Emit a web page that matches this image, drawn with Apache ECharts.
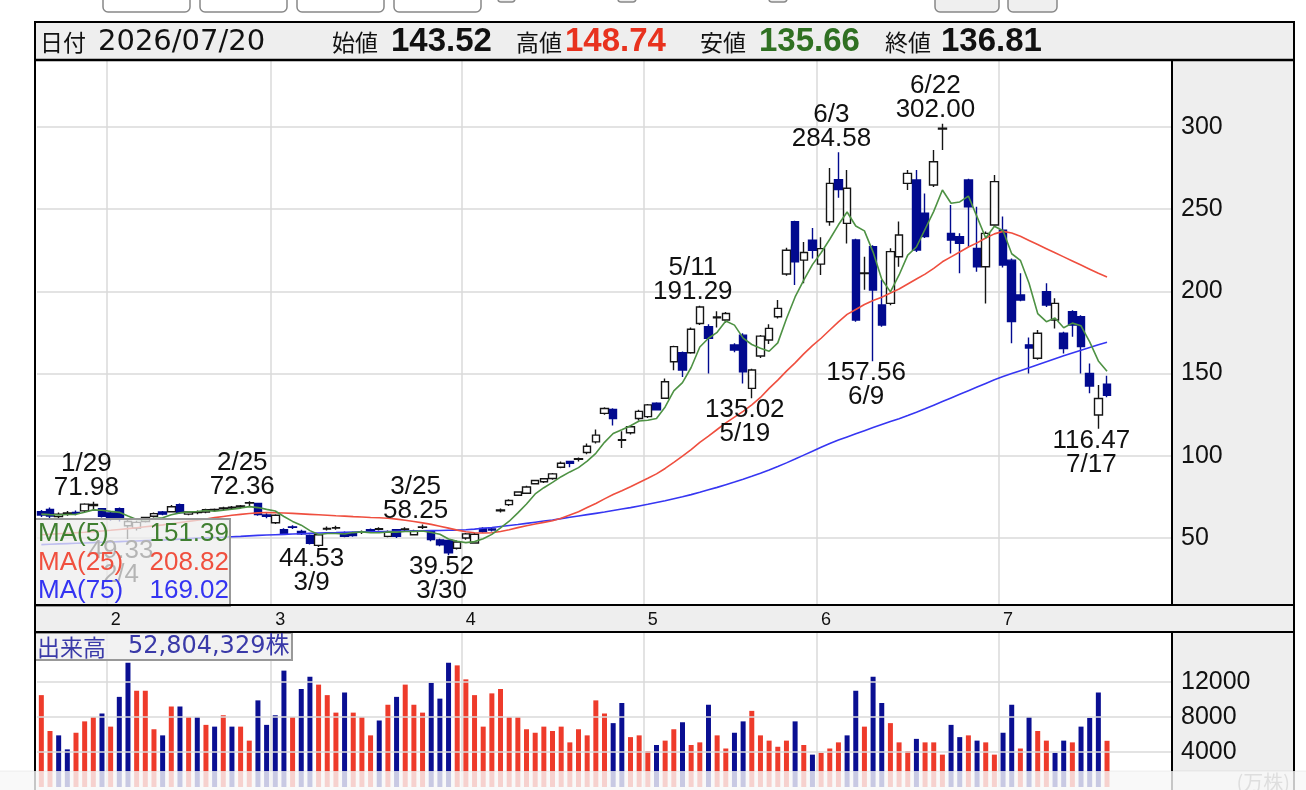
<!DOCTYPE html>
<html>
<head>
<meta charset="utf-8">
<script src="https://cdn.jsdelivr.net/npm/echarts@6/dist/echarts.min.js"></script>
<style>
  html, body { margin: 0; padding: 0; background: #fff; }
  #main { width: 1306px; height: 790px; }
</style>
</head>
<body>
<div id="main"></div>
<script>
// 日付 (最後の7つは空き枠)
const dates = [
  '1/21','1/22','1/23','1/26','1/27','1/28','1/29','1/30',
  '2/2','2/3','2/4','2/5','2/6','2/9','2/10','2/12','2/13','2/16','2/17','2/18','2/19','2/20','2/23','2/24','2/25','2/26','2/27',
  '3/2','3/3','3/4','3/5','3/6','3/9','3/10','3/11','3/12','3/13','3/16','3/17','3/18','3/19','3/20','3/23','3/24','3/25','3/26','3/27','3/30','3/31',
  '4/1','4/2','4/3','4/6','4/7','4/8','4/9','4/10','4/13','4/14','4/15','4/16','4/17','4/20','4/21','4/22','4/23','4/24','4/27','4/28','4/30',
  '5/1','5/4','5/5','5/6','5/7','5/8','5/11','5/12','5/13','5/14','5/15','5/18','5/19','5/20','5/21','5/22','5/26','5/27','5/28','5/29',
  '6/1','6/2','6/3','6/4','6/5','6/8','6/9','6/10','6/11','6/12','6/16','6/17','6/18','6/19','6/22','6/23','6/24','6/25','6/26','6/29','6/30',
  '7/1','7/2','7/3','7/7','7/8','7/9','7/10','7/13','7/14','7/15','7/16','7/17','7/20',
  '7/21','7/22','7/23','7/24','7/27','7/28','7/29'
];

const opens = [
  66.0,67.4,63.0,64.8,65.5,66.5,69.8,67.8,65.2,67.8,
  57.5,56.0,60.0,63.2,65.8,66.0,70.2,64.5,65.5,65.8,
  67.0,67.8,68.2,68.8,71.2,71.0,64.0,59.3,55.0,56.8,
  54.0,51.6,45.5,55.5,56.0,53.2,53.0,53.5,55.0,55.3,
  51.0,55.0,55.2,52.0,56.5,53.9,48.8,48.5,43.8,50.0,
  47.0,55.8,55.5,66.5,70.3,76.0,77.2,83.0,84.2,86.2,
  93.0,96.5,97.8,102.0,108.5,125.8,128.2,109.4,114.0,122.7,
  123.8,132.0,135.0,157.2,162.7,162.7,180.5,178.5,184.0,182.6,
  167.4,173.4,141.0,160.7,170.4,184.6,210.6,242.4,219.0,231.2,
  216.6,242.4,268.0,241.4,231.3,210.8,227.2,191.7,192.7,221.1,
  265.7,267.8,247.5,264.7,298.8,235.3,233.3,267.8,226.2,215.0,
  240.4,237.3,219.0,197.8,167.5,159.3,199.8,182.6,174.5,187.7,
  184.6,150.1,124.8,143.52
];
const closes = [
  64.0,63.4,64.5,65.2,65.0,70.6,70.4,63.2,61.6,62.0,
  60.0,59.5,62.5,64.8,64.5,69.0,65.5,65.8,65.8,67.2,
  67.3,68.3,68.8,69.5,71.5,64.2,63.2,63.8,52.8,56.5,
  52.5,46.8,52.0,55.8,56.2,51.0,51.5,53.8,54.0,55.6,
  53.8,51.0,55.5,54.3,56.8,49.0,45.8,41.0,47.6,52.5,
  52.3,54.0,54.8,67.0,72.8,78.0,81.0,85.0,86.0,89.0,
  95.5,95.5,98.2,105.8,112.6,128.8,122.7,109.8,117.7,127.0,
  131.0,128.0,145.0,166.4,152.2,177.0,190.5,171.4,184.5,186.6,
  164.3,151.1,152.2,172.8,177.5,189.7,225.0,218.0,223.7,225.0,
  226.0,265.7,262.0,262.7,182.6,211.2,200.8,179.5,224.2,234.3,
  271.8,225.2,233.3,278.9,299.3,231.3,229.2,251.5,215.0,235.3,
  266.8,216.0,181.6,194.8,165.5,174.5,191.7,192.7,165.3,179.5,
  166.4,142.4,134.9,136.81
];
const lows = [
  62.8,62.0,61.5,63.5,63.8,65.8,66.5,62.5,60.5,60.0,
  49.33,54.5,59.5,62.5,63.8,65.5,64.8,63.8,64.5,65.0,
  66.2,67.0,67.5,68.0,69.5,63.5,62.0,58.5,52.0,55.5,
  51.8,46.0,44.53,54.5,55.0,50.5,50.8,52.5,53.0,54.5,
  50.5,50.0,54.2,51.5,55.5,48.0,45.0,39.52,43.0,49.0,
  46.5,53.2,54.0,65.5,69.5,75.5,76.8,82.5,83.5,85.5,
  92.5,93.0,96.5,101.0,107.5,125.0,118.5,104.8,113.0,121.5,
  123.0,127.5,134.5,152.0,148.0,162.0,179.5,150.0,178.0,181.0,
  163.0,144.0,135.02,159.5,168.0,183.5,209.5,203.9,205.0,220.0,
  210.0,240.0,257.0,229.2,181.5,201.0,157.56,178.5,191.5,215.0,
  261.7,224.0,232.5,263.5,286.0,223.1,211.0,227.2,212.0,192.7,
  239.5,214.5,168.4,194.0,150.0,158.5,190.5,177.5,162.3,172.4,
  150.1,138.0,116.47,135.66
];
const highs = [
  67.0,68.5,65.5,66.5,66.8,71.2,71.98,68.3,66.0,68.5,
  61.0,60.5,63.0,65.5,66.5,70.0,71.0,66.5,66.8,67.8,
  68.0,69.0,69.5,70.0,72.36,71.5,65.0,64.5,56.0,57.8,
  55.0,52.2,52.5,57.0,57.5,54.0,53.8,54.5,55.8,56.5,
  54.5,55.5,56.5,55.0,58.25,54.5,49.5,49.0,48.5,53.0,
  53.0,56.5,56.2,68.0,73.5,78.5,81.8,85.5,86.5,89.5,
  96.5,97.0,99.0,107.5,116.0,129.5,129.0,115.0,118.5,128.0,
  131.5,132.5,147.0,167.0,163.5,178.0,191.29,180.0,188.0,187.5,
  168.5,174.5,153.0,173.5,180.0,194.8,226.5,243.0,230.0,238.5,
  233.0,275.0,284.58,273.8,232.0,221.0,228.0,207.0,226.2,242.5,
  273.8,273.8,259.6,286.0,302.0,252.5,235.3,268.5,251.5,236.5,
  270.8,245.5,220.0,211.0,172.0,176.5,204.9,195.8,175.5,188.5,
  185.5,156.2,143.0,148.74
];

const ma5 = [
  64.5,64.2,64.0,64.3,64.4,65.7,67.1,66.9,66.2,65.6,
  63.4,61.3,61.1,61.8,62.3,64.1,65.3,65.9,66.1,66.7,
  66.3,66.9,67.5,68.2,69.1,68.5,67.4,66.4,63.1,60.1,
  57.8,54.5,52.1,52.7,52.7,52.4,53.3,53.7,53.3,53.2,
  53.7,53.6,54.0,54.0,54.3,53.3,52.3,49.4,48.0,47.2,
  47.8,49.5,52.2,56.1,60.2,65.3,70.7,76.8,80.6,83.8,
  87.3,90.2,92.8,96.8,101.5,108.2,113.6,115.9,118.3,121.2,
  121.6,122.7,129.7,139.5,144.5,153.7,166.2,171.5,175.1,182.0,
  179.5,171.6,167.7,165.4,163.6,168.7,183.4,196.6,206.8,216.3,
  223.5,231.7,240.5,248.3,239.8,236.8,223.9,207.4,199.7,210.0,
  222.1,227.0,237.8,248.7,261.7,253.6,254.4,258.0,245.3,232.5,
  239.6,236.9,222.9,218.9,204.9,186.5,181.6,183.8,177.9,180.7,
  179.1,169.3,157.7,151.39
];
const ma25 = [
  52.0,52.3,52.6,52.9,53.2,53.5,53.9,54.3,54.7,55.2,
  55.7,56.2,56.8,57.4,58.0,58.7,59.4,60.1,60.8,61.6,
  62.4,63.1,63.8,64.4,64.9,65.3,65.5,65.4,65.2,65.0,
  64.7,64.4,64.1,63.8,63.5,63.3,63.0,62.8,62.5,62.3,
  62.0,61.5,60.8,60.0,59.2,58.3,57.2,56.0,54.8,53.8,
  53.2,53.0,53.2,54.0,55.0,56.3,57.5,58.5,59.5,60.5,
  62.0,64.0,66.0,68.5,71.0,73.8,76.5,78.8,81.2,83.8,
  86.3,89.0,92.3,96.0,99.8,103.8,108.2,112.0,116.0,120.0,
  123.5,127.0,131.0,135.5,141.0,146.0,151.5,156.5,162.0,167.0,
  171.5,176.5,181.5,186.0,189.0,192.0,194.5,196.5,199.0,201.5,
  204.5,207.5,210.5,214.0,218.0,221.0,224.0,227.0,229.5,232.5,
  235.0,236.5,235.5,233.5,231.0,228.5,226.0,223.5,221.0,218.5,
  216.0,213.5,211.0,208.82
];
const ma75 = [
  46.0,46.2,46.4,46.6,46.8,47.0,47.2,47.4,47.6,47.8,
  48.0,48.2,48.4,48.6,48.8,49.0,49.3,49.6,49.9,50.1,
  50.3,50.5,50.8,51.0,51.3,51.6,51.8,52.0,52.2,52.4,
  52.6,52.8,53.0,53.2,53.3,53.5,53.6,53.7,53.8,53.9,
  54.0,54.1,54.2,54.3,54.4,54.5,54.6,54.7,54.8,55.0,
  55.4,55.9,56.4,57.0,57.6,58.2,58.9,59.6,60.3,61.0,
  61.8,62.6,63.4,64.2,65.0,65.8,66.7,67.6,68.5,69.5,
  70.5,71.6,72.7,73.9,75.1,76.4,77.8,79.3,80.8,82.4,
  84.0,85.7,87.5,89.4,91.4,93.5,95.7,98.0,100.4,102.8,
  105.2,107.5,109.6,111.5,113.4,115.3,117.2,119.0,120.8,122.6,
  124.5,126.5,128.6,130.8,133.0,135.2,137.4,139.6,141.8,144.0,
  146.2,148.2,150.0,151.8,153.6,155.4,157.2,159.0,160.8,162.5,
  164.2,165.9,167.5,169.02
];

// 出来高 (万株)
const volumes = [
  10500,6400,5900,4300,6200,7500,8000,8400,6900,10300,
  14200,11000,11000,6600,5900,9200,9200,8000,8000,7100,
  6900,8200,6900,6900,5300,9900,7100,8200,13300,8000,
  11200,12600,11700,10500,8500,10800,8500,8000,5900,7600,
  9400,10300,11700,9400,8500,11900,10100,14200,13900,12300,
  10500,6900,10700,11200,8000,8000,6600,6200,6900,6400,
  6900,5100,6600,5900,9900,8400,7300,9600,5700,5900,
  4100,4800,5300,6600,7400,4800,5100,9400,5900,4400,
  6200,7500,8700,5900,5300,4600,5300,7500,4800,3700,
  3900,4400,5100,5900,11000,6900,12600,9600,7300,5100,
  4100,5500,5100,5100,3700,7100,5700,5900,5300,5100,
  3700,6200,9400,4400,8000,6400,5300,3900,5300,5100,
  6900,7900,10800,5280
];
// r = 赤 (前日比上昇), b = 青
const volumeColors = (
  'rrbbrrrbrb' + 'brrrbrbrbr' + 'brbrrbbbbr' + 'bbrrrbrrrb' + 'rbrrrbbbrr' +
  'rrrrrrrrrr' + 'rrrrrrbbrr' + 'rbrrbrrbrr' + 'bbrrrrrbrb' + 'rrrbbrbbrr' +
  'rbrrrbbrbr' + 'rbbrbrrbbr' + 'bbbr'
).split('');

const priceTicks = [50, 100, 150, 200, 250, 300];
const volumeTicks = [4000, 8000, 12000];

// 高値・安値の注記
const peaks = [
  ['1/29', 71.98, 'top'], ['2/25', 72.36, 'top'], ['2/4', 49.33, 'bottom'],
  ['3/9', 44.53, 'bottom'], ['3/25', 58.25, 'top'], ['3/30', 39.52, 'bottom'],
  ['5/11', 191.29, 'top'], ['5/19', 135.02, 'bottom'], ['6/3', 284.58, 'top'],
  ['6/9', 157.56, 'bottom'], ['6/22', 302.00, 'top'], ['7/17', 116.47, 'bottom']
];

const quote = { date: '2026/07/20', open: '143.52', high: '148.74', low: '135.66', close: '136.81' };
const maLegend = [
  ['MA(5)', '151.39', '#3f7f30'],
  ['MA(25)', '208.82', '#f0503f'],
  ['MA(75)', '169.02', '#3434f2']
];
const volumeText = '52,804,329株';

const SANS = "'Liberation Sans', 'Noto Sans CJK JP', sans-serif";
const WIDE = "'DejaVu Sans', 'Noto Sans CJK JP', sans-serif";
const CJK = "'Noto Sans CJK JP', sans-serif";
const UP_VOL = '#ee3b2b', DOWN_VOL = '#0a0f92', DOWN = '#020a8f';

const monthStarts = dates.map((d, i) => i > 0 && d.split('/')[0] !== dates[i - 1].split('/')[0]);

const ohlc = opens.map((o, i) => [o, closes[i], lows[i], highs[i]]);

const chart = echarts.init(document.getElementById('main'));

function line(x1, y1, x2, y2, w, color, z) {
  return { type: 'line', z: z || 50, silent: true, shape: { x1, y1, x2, y2 }, style: { stroke: color || '#000', lineWidth: w } };
}
function rect(x, y, width, height, style, z, r) {
  return { type: 'rect', z: z, silent: true, shape: { x, y, width, height, r: r || 0 }, style };
}
function text(t, x, y, font, color, align, z) {
  return { type: 'text', z: z || 51, silent: true,
    style: { text: t, x, y, font, fill: color || '#111', textAlign: align || 'left', textVerticalAlign: 'middle' } };
}

const graphics = [
  // top buttons (cut off)
  rect(103, -14, 87, 26, { fill: '#fff', stroke: '#888', lineWidth: 1.5 }, 1, 5),
  rect(200, -14, 87, 26, { fill: '#fff', stroke: '#888', lineWidth: 1.5 }, 1, 5),
  rect(297, -14, 87, 26, { fill: '#fff', stroke: '#888', lineWidth: 1.5 }, 1, 5),
  rect(394, -14, 87, 26, { fill: '#fff', stroke: '#888', lineWidth: 1.5 }, 1, 5),
  rect(498, -10, 17, 12, { fill: '#eee', stroke: '#888', lineWidth: 1.5 }, 1, 3),
  rect(618, -10, 18, 12, { fill: '#eee', stroke: '#888', lineWidth: 1.5 }, 1, 3),
  rect(769, -10, 18, 12, { fill: '#eee', stroke: '#888', lineWidth: 1.5 }, 1, 3),
  rect(935, -14, 64, 26, { fill: '#efefef', stroke: '#888', lineWidth: 1.5 }, 1, 5),
  rect(1008, -14, 49, 26, { fill: '#efefef', stroke: '#888', lineWidth: 1.5 }, 1, 5),

  // gray areas behind axes
  rect(35, 22, 1259, 38, { fill: '#eeeeee', stroke: '#000', lineWidth: 2 }, -1),
  rect(1172, 60, 122, 545, { fill: '#eeeeee' }, -1),
  rect(1172, 632, 122, 160, { fill: '#eeeeee' }, -1),
  rect(35, 605, 1259, 27, { fill: '#eeeeee' }, -1),

  // header quote
  text('日付', 40, 42, '23px ' + CJK),
  text(quote.date, 98, 42, '29px ' + WIDE),
  text('始値', 332, 42, '23px ' + CJK),
  text(quote.open, 391, 42, 'bold 33px ' + SANS),
  text('高値', 516, 42, '23px ' + CJK),
  text(quote.high, 565, 42, 'bold 33px ' + SANS, '#e8321e'),
  text('安値', 700, 42, '23px ' + CJK),
  text(quote.low, 759, 42, 'bold 33px ' + SANS, '#2f7022'),
  text('終値', 885, 42, '23px ' + CJK),
  text(quote.close, 941, 42, 'bold 33px ' + SANS),

  // frame lines
  line(35, 60, 1294, 60, 2.5),
  line(35, 605, 1294, 605, 2),
  line(35, 632, 1294, 632, 2),
  line(35, 22, 35, 792, 2),
  line(1294, 22, 1294, 792, 2),
  line(1172, 60, 1172, 605, 2),
  line(1172, 632, 1172, 792, 2),

  // MA legend box
  rect(35, 519, 195, 87, { fill: 'rgba(238,238,238,0.74)', stroke: '#999', lineWidth: 2 }, 40),

  // volume label box
  rect(35, 633, 257, 27, { fill: 'rgba(240,240,240,0.85)', stroke: '#999', lineWidth: 2 }, 40),
  text('出来高', 37, 647, '23px ' + CJK, '#3a3aa8', 'left', 41),
  text(volumeText, 128, 647, '24px ' + WIDE, '#3a3aa8', 'left', 41),

  // unit and bottom fade
  text('(万株)', 1290, 782, '20px ' + CJK, '#777', 'right', 55),
  rect(0, 771, 1306, 19, { fill: 'rgba(247,247,247,0.8)' }, 60),
  line(0, 771, 1306, 771, 1, 'rgba(0,0,0,0.06)', 61)
];
maLegend.forEach((m, i) => {
  const y = 534 + i * 28.5;
  graphics.push(text(m[0], 38, y, '26px ' + SANS, m[2], 'left', 41));
  graphics.push(text(m[1], 229, y, '26px ' + SANS, m[2], 'right', 41));
});

const splitColor = '#dadada';

chart.setOption({
  animation: false,
  backgroundColor: '#fff',
  grid: [
    { left: 37, right: 134, top: 60, height: 545 },
    { left: 37, right: 134, top: 632, height: 155 }
  ],
  xAxis: [
    {
      type: 'category', gridIndex: 0, data: dates, boundaryGap: true,
      axisLine: { show: false }, axisTick: { show: false },
      splitLine: { show: true, interval: (i) => monthStarts[i], lineStyle: { color: splitColor, width: 1.5 } },
      axisLabel: {
        show: true, interval: (i) => monthStarts[i], formatter: (v) => v.split('/')[0],
        color: '#111', fontSize: 18, fontFamily: SANS, margin: 6, align: 'left'
      }
    },
    {
      type: 'category', gridIndex: 1, data: dates, boundaryGap: true,
      axisLine: { show: false }, axisTick: { show: false }, axisLabel: { show: false },
      splitLine: { show: true, interval: (i) => monthStarts[i], lineStyle: { color: splitColor, width: 1.5 } }
    }
  ],
  yAxis: [
    {
      type: 'value', gridIndex: 0, position: 'right', min: 9.25, max: 340.75,
      splitNumber: 6, minInterval: 50, maxInterval: 50,
      axisLine: { show: false }, axisTick: { show: false },
      splitLine: { show: true, lineStyle: { color: splitColor, width: 1.5 } },
      axisLabel: {
        margin: 9, color: '#111', fontSize: 25, fontFamily: SANS,
        formatter: (v) => (priceTicks.indexOf(v) >= 0 ? String(v) : '')
      }
    },
    {
      type: 'value', gridIndex: 1, position: 'right', min: 0, max: 17714,
      minInterval: 4000, maxInterval: 4000,
      axisLine: { show: false }, axisTick: { show: false }, splitLine: { show: false },
      axisLabel: {
        margin: 9, color: '#111', fontSize: 25, fontFamily: SANS,
        formatter: (v) => (volumeTicks.indexOf(v) >= 0 ? String(v) : '')
      }
    }
  ],
  series: [
    {
      type: 'candlestick', xAxisIndex: 0, yAxisIndex: 0, data: ohlc, barWidth: 8, z: 2,
      itemStyle: { color: '#ffffff', color0: DOWN, borderColor: '#151515', borderColor0: DOWN, borderWidth: 1.4 },
      markPoint: {
        silent: true, symbol: 'circle', symbolSize: 0, animation: false,
        label: { show: true, color: '#111', fontSize: 26, lineHeight: 24, fontFamily: SANS, offset: [-7, 0] },
        data: peaks.map((p) => ({
          coord: [p[0], p[1]],
          label: {
            position: p[2], distance: p[2] === 'top' ? 2 : 0,
            formatter: p[2] === 'top' ? p[0] + '\n' + p[1].toFixed(2) : p[1].toFixed(2) + '\n' + p[0]
          }
        }))
      }
    },
    { type: 'line', name: 'MA(75)', data: ma75, symbol: 'none', silent: true, z: 3, lineStyle: { color: '#3636f2', width: 1.6 } },
    { type: 'line', name: 'MA(25)', data: ma25, symbol: 'none', silent: true, z: 3, lineStyle: { color: '#ef4f3f', width: 1.6 } },
    { type: 'line', name: 'MA(5)', data: ma5, symbol: 'none', silent: true, z: 4, lineStyle: { color: '#4e9244', width: 1.6 } },
    {
      type: 'line', xAxisIndex: 1, yAxisIndex: 1, data: [], z: 1, silent: true,
      markLine: {
        silent: true, symbol: ['none', 'none'], label: { show: false }, animation: false,
        lineStyle: { color: splitColor, width: 1.5, type: 'solid' },
        data: volumeTicks.map((v) => ({ yAxis: v }))
      }
    },
    {
      type: 'bar', xAxisIndex: 1, yAxisIndex: 1, barWidth: 5, z: 2, silent: true,
      data: volumes.map((v, i) => ({ value: v, itemStyle: { color: volumeColors[i] === 'r' ? UP_VOL : DOWN_VOL } }))
    }
  ],
  graphic: { elements: graphics }
});
</script>
</body>
</html>
